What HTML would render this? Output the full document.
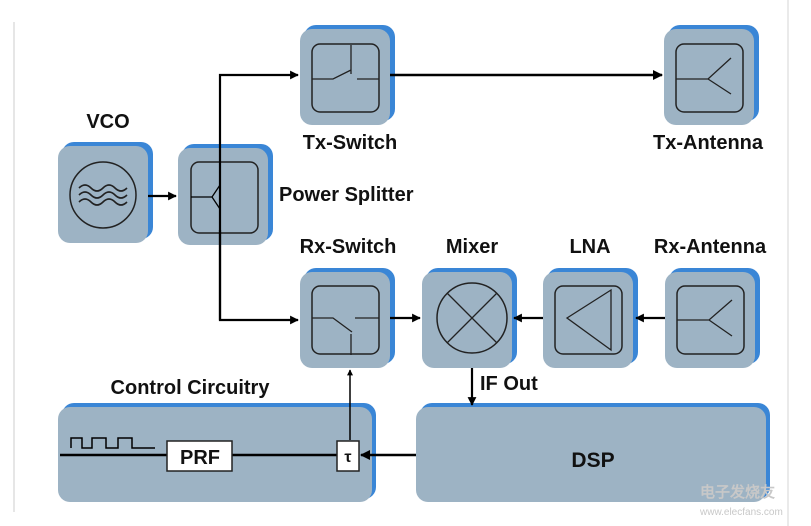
<!DOCTYPE html>
<html><head><style>
html,body{margin:0;padding:0;background:#fff;}
svg{display:block;}
text{font-family:"Liberation Sans",Arial,sans-serif;font-weight:bold;fill:#111;}
</style></head><body>
<svg width="811" height="526" viewBox="0 0 811 526" xmlns="http://www.w3.org/2000/svg">
<defs>
<marker id="ar" viewBox="0 0 10 10" refX="9" refY="5" markerWidth="4" markerHeight="4" orient="auto"><path d="M0,0 L10,5 L0,10z" fill="#000"/></marker>
</defs>
<line x1="14" y1="22" x2="14" y2="512" stroke="#ddd" stroke-width="1.5"/>
<line x1="788" y1="0" x2="788" y2="526" stroke="#e4e4e4" stroke-width="1.5"/>

<g>
<rect x="304" y="25" width="91" height="96" rx="12" fill="#3a86d6"/>
<rect x="300" y="29" width="90" height="96" rx="12" fill="#9db3c4"/>
<rect x="312" y="44" width="67" height="68" rx="8" fill="none" stroke="#222" stroke-width="1.5"/>
<path d="M312,79 H333 L351,70 M351,74 V45 M357,79 H379" fill="none" stroke="#222" stroke-width="1.3"/>
</g>
<g>
<rect x="668" y="25" width="91" height="96" rx="12" fill="#3a86d6"/>
<rect x="664" y="29" width="90" height="96" rx="12" fill="#9db3c4"/>
<rect x="676" y="44" width="67" height="68" rx="8" fill="none" stroke="#222" stroke-width="1.5"/>
<path d="M676,79 H708 L731,58 M708,79 L731,94" fill="none" stroke="#222" stroke-width="1.3"/>
</g>
<g>
<rect x="62" y="142" width="91" height="97" rx="12" fill="#3a86d6"/>
<rect x="58" y="146" width="90" height="97" rx="12" fill="#9db3c4"/>
<circle cx="103" cy="195" r="33" fill="none" stroke="#222" stroke-width="1.5"/>
<path d="M79,188 q6,-6 12,0 t12,0 t12,0 t12,0 M79,195 q6,-6 12,0 t12,0 t12,0 t12,0 M79,202 q6,-6 12,0 t12,0 t12,0 t12,0" fill="none" stroke="#222" stroke-width="1.6"/>
</g>
<g>
<rect x="182" y="144" width="91" height="97" rx="12" fill="#3a86d6"/>
<rect x="178" y="148" width="90" height="97" rx="12" fill="#9db3c4"/>
<rect x="191" y="162" width="67" height="71" rx="8" fill="none" stroke="#222" stroke-width="1.5"/>
</g>
<g>
<rect x="304" y="268" width="91" height="96" rx="12" fill="#3a86d6"/>
<rect x="300" y="272" width="90" height="96" rx="12" fill="#9db3c4"/>
<rect x="312" y="286" width="67" height="68" rx="8" fill="none" stroke="#222" stroke-width="1.5"/>
<path d="M312,318 H333 L352,332 M351,334 V355 M355,318 H379" fill="none" stroke="#222" stroke-width="1.3"/>
</g>
<g>
<rect x="426" y="268" width="91" height="96" rx="12" fill="#3a86d6"/>
<rect x="422" y="272" width="90" height="96" rx="12" fill="#9db3c4"/>
<circle cx="472" cy="318" r="35" fill="none" stroke="#222" stroke-width="1.5"/>
<path d="M447,293 L497,343 M497,293 L447,343" stroke="#222" stroke-width="1.3"/>
</g>
<g>
<rect x="547" y="268" width="91" height="96" rx="12" fill="#3a86d6"/>
<rect x="543" y="272" width="90" height="96" rx="12" fill="#9db3c4"/>
<rect x="555" y="286" width="67" height="68" rx="8" fill="none" stroke="#222" stroke-width="1.5"/>
<path d="M611,290 V350 L567,318 Z" fill="none" stroke="#222" stroke-width="1.3"/>
</g>
<g>
<rect x="669" y="268" width="91" height="96" rx="12" fill="#3a86d6"/>
<rect x="665" y="272" width="90" height="96" rx="12" fill="#9db3c4"/>
<rect x="677" y="286" width="67" height="68" rx="8" fill="none" stroke="#222" stroke-width="1.5"/>
<path d="M677,320 H709 L732,300 M709,320 L732,336" fill="none" stroke="#222" stroke-width="1.3"/>
</g>
<g>
<rect x="62" y="403" width="314" height="96" rx="12" fill="#3a86d6"/>
<rect x="58" y="407" width="314" height="95" rx="12" fill="#9db3c4"/>
</g>
<g>
<rect x="420" y="403" width="350" height="96" rx="12" fill="#3a86d6"/>
<rect x="416" y="407" width="350" height="95" rx="12" fill="#9db3c4"/>
</g>

<g stroke="#000" fill="none">
<path d="M220,320 V75 H298" stroke-width="2.2" marker-end="url(#ar)"/>
<path d="M220,162 V233 M191,197 H212 L220,185 M212,197 L220,209" stroke-width="1.3"/>
<line x1="390" y1="75" x2="662" y2="75" stroke-width="2.5" marker-end="url(#ar)"/>
<line x1="148" y1="196" x2="176" y2="196" stroke-width="2.2" marker-end="url(#ar)"/>
<path d="M220,230 V320 H298" stroke-width="2.2" marker-end="url(#ar)"/>
<line x1="390" y1="318" x2="420" y2="318" stroke-width="2.2" marker-end="url(#ar)"/>
<line x1="543" y1="318" x2="514" y2="318" stroke-width="2.2" marker-end="url(#ar)"/>
<line x1="665" y1="318" x2="636" y2="318" stroke-width="2.2" marker-end="url(#ar)"/>
<line x1="472" y1="368" x2="472" y2="405" stroke-width="2.2" marker-end="url(#ar)"/>
<line x1="416" y1="455" x2="361" y2="455" stroke-width="2.5" marker-end="url(#ar)"/>
<line x1="350" y1="440" x2="350" y2="370" stroke-width="1.5" marker-end="url(#ar)"/>
<path d="M60,455 H167 M232,455 H337" stroke-width="2.5"/>
<path d="M71,448 V438 H82 V448 H92 V438 H106 V448 H118 V438 H132 V448 H155" stroke-width="1.5"/>
</g>
<rect x="167" y="441" width="65" height="30" fill="#fff" stroke="#222" stroke-width="1.5"/>
<rect x="337" y="441" width="22" height="30" fill="#fff" stroke="#222" stroke-width="1.5"/>

<g font-size="20">
<text x="108" y="128" text-anchor="middle" font-size="20">VCO</text>
<text x="350" y="149" text-anchor="middle">Tx-Switch</text>
<text x="708" y="149" text-anchor="middle">Tx-Antenna</text>
<text x="279" y="201">Power Splitter</text>
<text x="348" y="253" text-anchor="middle">Rx-Switch</text>
<text x="472" y="253" text-anchor="middle">Mixer</text>
<text x="590" y="253" text-anchor="middle">LNA</text>
<text x="710" y="253" text-anchor="middle">Rx-Antenna</text>
<text x="190" y="394" text-anchor="middle">Control Circuitry</text>
<text x="480" y="390">IF Out</text>
<text x="593" y="467" text-anchor="middle" font-size="21">DSP</text>
<text x="200" y="464" text-anchor="middle" font-weight="normal" font-size="20">PRF</text>
<text x="348" y="462" text-anchor="middle" font-weight="normal" font-size="16">τ</text>
</g>
<text x="700" y="497" font-size="15" style="fill:#c8c8c8">电子发烧友</text>
<text x="700" y="515" font-size="10" style="fill:#c8c8c8;font-weight:normal">www.elecfans.com</text>
</svg>
</body></html>
